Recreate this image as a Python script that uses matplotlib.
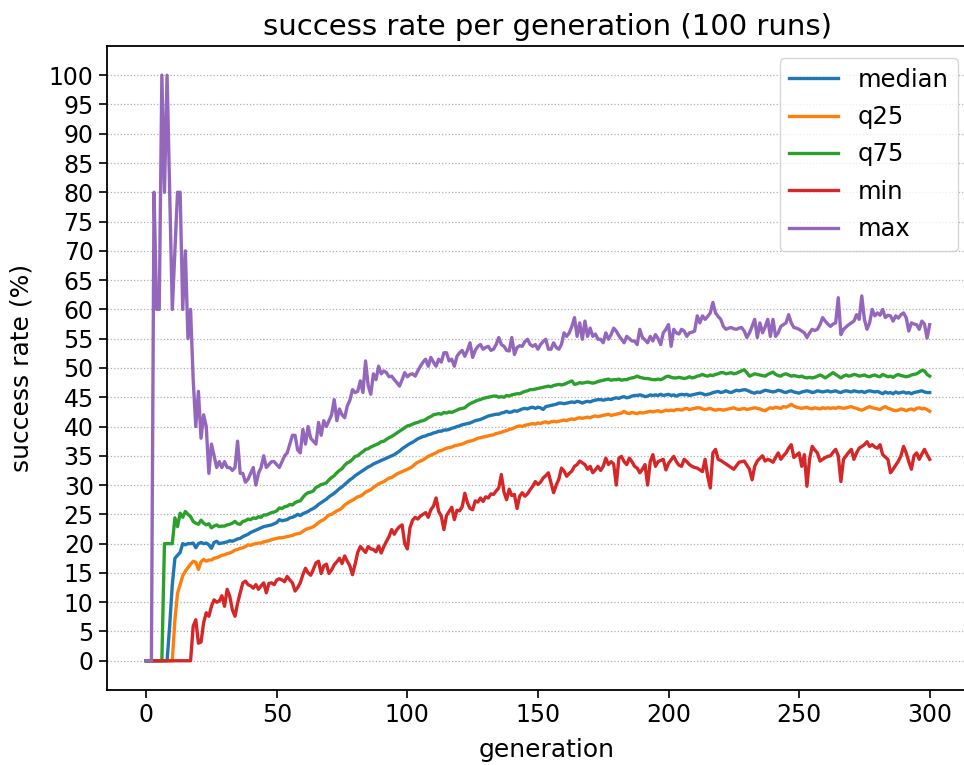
import numpy as np
import matplotlib
matplotlib.use('Agg')
import matplotlib.pyplot as plt

# success rate per generation (generations 0..300)
max_rate = [
    0, 0, 0, 80, 60, 60, 100, 80, 100, 80,
    60, 70, 80, 80, 60, 70, 55, 60, 48, 40,
    46, 38, 42, 40, 32, 37, 35, 33, 34, 33,
    34, 33, 33, 32.5, 33, 37.5, 32, 32, 30.5, 31,
    32, 33, 30, 32, 33, 35, 33, 33.5, 34, 34,
    33.5, 33, 34, 35, 35.5, 37, 38.5, 38.5, 36, 35.5,
    39.5, 37, 40, 38, 37.5, 37, 40.7, 38.5, 41, 40,
    41, 42, 44.6, 41, 43, 42, 41.5, 43.5, 44.5, 46.3,
    45.8, 46, 47.8, 45.8, 51.2, 47, 45.5, 49, 48, 50.3,
    49, 49.5, 49.2, 48.5, 48.6, 48, 47.5, 46.9, 48, 49.2,
    48.5, 48.9, 49, 48.6, 49.5, 50.3, 51, 51.5, 50.3, 51.8,
    51, 50.3, 51.5, 51, 52.6, 52.6, 51.2, 51.5, 50.3, 52,
    52.6, 53, 52, 53, 54.3, 51.8, 53, 53.7, 54, 53.2,
    53.5, 53.7, 53, 53.2, 54, 55.2, 54, 53.7, 53, 52.9,
    55.2, 52.3, 53.5, 53.8, 53.7, 54.5, 54.9, 54, 53.7, 54,
    53.2, 54, 54.5, 54.9, 53.2, 53.2, 54.3, 53.5, 53.2, 54,
    56, 55.4, 56, 57.1, 58.6, 55.4, 57.7, 54.9, 58, 55.4,
    56.8, 55.4, 55.8, 54.9, 54.9, 54.3, 56, 54.9, 55.7, 56.8,
    56.3, 55.5, 54.9, 54.3, 55.4, 55, 54.6, 54.6, 54, 56.6,
    55.2, 54.8, 54.3, 55.4, 54.6, 55.7, 55, 54, 56, 56.6,
    57.4, 53.7, 56.6, 56, 55.8, 56.6, 56.3, 55.4, 56, 56.1,
    56.3, 58.9, 57.7, 58.9, 58.3, 58.8, 59.4, 61.2, 59.4, 58.8,
    58.3, 57.1, 56.6, 56.8, 56.9, 56.7, 56.6, 56.8, 56.9, 56.3,
    55.2, 56, 57.1, 58.3, 55.2, 57.7, 56, 57, 58.3, 55.4,
    58.3, 55.4, 56, 57.1, 57.4, 57.7, 59.1, 57.7, 56.9, 56.8,
    56.6, 56.3, 56, 55.2, 56, 56.6, 56.4, 56.6, 57.4, 58.6,
    58, 57.5, 57.1, 57.5, 57.7, 62, 55.7, 56.6, 57, 57.4,
    57.7, 58, 59.1, 58.3, 62.3, 58.3, 56.6, 57.7, 60, 58.9,
    59.4, 59, 60, 58.6, 59, 58.9, 58, 58.9, 58.5, 59.1,
    59.4, 58.6, 56.3, 57.7, 57.5, 57.4, 56.6, 58, 57.5, 55.1,
    57.4,
]

q75 = [
    0, 0, 0, 0, 0, 0, 0, 20, 20, 20,
    20, 24.4, 22.9, 25.2, 24.5, 25.5, 25, 24.6, 23.8, 23.5,
    23.3, 24, 23.5, 23.2, 23.4, 22.7, 23, 23.2, 22.9, 23,
    23, 23.2, 23.3, 23.5, 23.8, 23.4, 23.3, 23.8, 23.9, 24.2,
    24.1, 24.4, 24.3, 24.6, 24.5, 24.9, 24.9, 25.1, 25.3, 25.4,
    25.6, 26.1, 26, 26.3, 26.4, 26.7, 26.6, 27, 27.2, 27.3,
    27.9, 28.4, 28.7, 28.8, 29, 29.6, 29.8, 30.1, 30.2, 30.4,
    30.9, 31.3, 31.6, 32.1, 32.5, 32.8, 33.4, 33.8, 34, 34.4,
    34.9, 35, 35.4, 35.7, 36.1, 36.2, 36.5, 36.7, 36.9, 37.1,
    37.4, 37.5, 37.8, 38.1, 38.3, 38.6, 38.9, 39.2, 39.5, 39.8,
    40.1, 40.2, 40.4, 40.6, 40.7, 40.9, 41, 41.2, 41.5, 41.7,
    42, 42.1, 42.2, 42.1, 42.4, 42.3, 42.5, 42.4, 42.6, 42.8,
    43, 43.1, 43.2, 43.6, 43.9, 44.1, 44.3, 44.5, 44.6, 44.8,
    44.9, 45, 45.1, 45.2, 45.2, 45, 45.1, 45, 45.3, 45.2,
    45.4, 45.5, 45.6, 45.6, 45.8, 46, 46.1, 46.3, 46.3, 46.4,
    46.5, 46.6, 46.7, 46.8, 46.9, 46.8, 47, 47.1, 47.2, 47.1,
    47.2, 47.4, 47.6, 47.8, 47.2, 47.3, 47.5, 47.4, 47.5, 47.6,
    47.5, 47.4, 47.5, 47.7, 47.8, 47.9, 48, 48.1, 47.9, 48,
    48, 48.1, 47.9, 48, 48, 48.2, 48.3, 48.4, 48.6, 48.4,
    48.3, 48.2, 48.2, 48.1, 48, 48, 48.1, 48, 48.2, 48.5,
    48.6, 48.4, 48.3, 48.3, 48.4, 48.3, 48.2, 48.3, 48.5, 48.3,
    48.4, 48.6, 48.7, 48.9, 48.7, 48.6, 48.8, 48.7, 48.9, 49,
    49.2, 49.2, 49, 49.1, 49.2, 49, 49.1, 49.3, 49.5, 49.7,
    49.2, 48.6, 48.8, 49, 48.9, 48.8, 48.7, 48.6, 48.9, 49.1,
    49.3, 48.9, 48.7, 48.6, 48.9, 49, 48.8, 48.6, 48.7, 48.6,
    48.5, 48.6, 48.4, 48.3, 48.4, 48.3, 48.4, 48.6, 48.8, 48.6,
    48.3, 48.6, 48.9, 49.2, 48.9, 48.6, 48.3, 48.6, 48.8, 48.6,
    48.7, 48.9, 48.8, 48.6, 48.7, 48.8, 48.6, 48.5, 48.7, 48.8,
    48.6, 48.5, 48.9, 48.7, 48.5, 48.6, 48.4, 48.7, 48.9, 48.7,
    48.6, 48.5, 48.6, 48.8, 48.9, 49, 49.3, 49.6, 49.5, 48.9,
    48.6,
]

median = [
    0, 0, 0, 0, 0, 0, 0, 0, 0, 6,
    13, 17.5, 18, 18.5, 20, 19.8, 20, 20, 20.1, 19.3,
    20, 20.2, 20, 20.1, 19.8, 19.2, 20.2, 20.4, 20, 20.1,
    20.2, 20.3, 20.5, 20.4, 20.6, 20.8, 20.9, 21.2, 21.4, 21.6,
    21.9, 22.1, 22.3, 22.5, 22.7, 22.9, 23, 23.1, 23.2, 23.4,
    23.6, 24.1, 23.9, 24, 24.1, 24.4, 24.5, 24.7, 25, 24.8,
    25.1, 25.3, 25.5, 25.8, 26, 26.3, 26.7, 27, 27.3, 27.6,
    28, 28.3, 28.6, 29, 29.4, 29.7, 30.1, 30.5, 30.9, 31.2,
    31.6, 31.9, 32.2, 32.5, 32.8, 33.1, 33.3, 33.6, 33.8, 34,
    34.2, 34.4, 34.6, 34.8, 35, 35.2, 35.5, 35.8, 36.2, 36.5,
    36.8, 37.1, 37.3, 37.6, 37.9, 38.1, 38.3, 38.4, 38.6, 38.7,
    38.9, 39, 39.2, 39.2, 39.4, 39.4, 39.5, 39.7, 39.8, 40,
    40.1, 40.3, 40.4, 40.5, 40.6, 40.8, 41, 41.1, 41.2, 41.4,
    41.6, 41.8, 41.9, 42, 42.1, 42.1, 42.3, 42.4, 42.6, 42.4,
    42.5, 42.7, 42.6, 42.8, 43, 43.1, 43, 43.2, 43.3, 43.1,
    43.3, 43.2, 42.9, 43.4, 43.5, 43.6, 43.7, 43.8, 44, 44,
    43.9, 44, 44.1, 44.2, 44.1, 44.3, 44.2, 44, 44.2, 44.3,
    44.2, 44.4, 44.5, 44.6, 44.6, 44.5, 44.6, 44.7, 44.6, 44.8,
    44.9, 44.8, 45, 45.1, 44.9, 45, 45.2, 45.3, 45.3, 45.4,
    45.3, 45.1, 45.2, 45.4, 45.3, 45.4, 45.3, 45.5, 45.3, 45.4,
    45.5, 45.3, 45.4, 45.2, 45.4, 45.5, 45.4, 45.5, 45.3, 45.4,
    45.5, 45.6, 45.7, 45.6, 45.4, 45.5, 45.6, 45.8, 45.9, 46,
    45.8, 45.9, 46.1, 45.9, 45.8, 46, 46.2, 46.1, 46.2, 46.3,
    46.2, 46, 45.8, 45.7, 45.9, 45.8, 46, 46.2, 46.1, 46,
    45.9, 46, 46.2, 46.1, 45.9, 45.8, 46, 46.1, 45.9, 45.8,
    45.7, 45.9, 46, 46.1, 46, 45.8, 45.9, 46.1, 46, 45.9,
    46, 46.1, 45.9, 46, 46.1, 45.9, 45.8, 46, 46.1, 46,
    45.9, 46.1, 46, 45.9, 46, 45.8, 46, 46.1, 46, 45.9,
    46, 45.8, 45.6, 45.9, 45.7, 45.8, 45.6, 45.9, 45.7, 45.8,
    45.9, 45.7, 45.8, 45.6, 45.8, 45.9, 46, 46.1, 45.9, 45.8,
    45.8,
]

q25 = [
    0, 0, 0, 0, 0, 0, 0, 0, 0, 0,
    0, 7, 11.5, 13, 14.5, 15.3, 15.9, 16.5, 17, 16.8,
    15.6, 16.9, 17.3, 17, 17.2, 17.2, 17.5, 17.6, 17.8, 18,
    18.1, 18.3, 18.4, 18.6, 18.9, 19, 19.2, 19.3, 19.5, 19.8,
    19.7, 19.9, 20, 20.1, 20.1, 20.3, 20.4, 20.5, 20.7, 20.8,
    20.9, 21, 21, 21.1, 21.2, 21.3, 21.4, 21.6, 21.7, 21.8,
    22.1, 22.4, 22.6, 22.7, 22.9, 23.2, 23.6, 23.9, 24.1, 24.5,
    24.9, 25, 25.3, 25.6, 25.8, 26.1, 26.6, 26.9, 27.2, 27.4,
    27.7, 28, 28.1, 28.4, 28.8, 29, 29.2, 29.6, 29.9, 30.2,
    30.4, 30.6, 30.9, 31.2, 31.3, 31.6, 31.9, 32.1, 32.3, 32.5,
    32.7, 32.9, 33.2, 33.6, 33.9, 34.1, 34.3, 34.6, 34.9, 35.1,
    35.3, 35.5, 35.8, 35.9, 36.1, 36.3, 36.4, 36.5, 36.7, 36.8,
    36.9, 37, 37.2, 37.4, 37.5, 37.6, 37.8, 38, 38.1, 38.2,
    38.3, 38.4, 38.5, 38.6, 38.8, 38.9, 39, 39.2, 39.3, 39.5,
    39.6, 39.8, 40, 40.1, 40, 40.2, 40.3, 40.4, 40.5, 40.4,
    40.6, 40.5, 40.7, 40.8, 40.6, 40.8, 40.9, 40.8, 40.9, 41,
    41.1, 41, 41.2, 41.3, 41.2, 41.4, 41.5, 41.4, 41.5, 41.6,
    41.5, 41.7, 41.8, 41.7, 41.8, 41.9, 42, 42.1, 41.9, 42,
    42.1, 42.2, 42.3, 42.6, 42.3, 42.2, 42.4, 42.3, 42.2, 42.4,
    42.3, 42.4, 42.5, 42.6, 42.5, 42.6, 42.7, 42.5, 42.6, 42.8,
    42.7, 42.8, 42.7, 42.9, 42.9, 42.8, 43, 43.1, 42.9, 43,
    43.1, 43.2, 43.2, 43, 42.9, 43, 43.1, 42.9, 42.8, 42.9,
    42.9, 42.8, 42.9, 43, 43.1, 43.2, 43, 42.9, 43, 43.1,
    42.9, 43, 43.1, 43.2, 43.1, 43, 42.8, 42.7, 43, 43.2,
    43.1, 43.3, 43.2, 43.1, 43.4, 43.3, 43.5, 43.8, 43.5, 43.3,
    43.2, 43.1, 43.2, 43.3, 43.1, 43, 43.2, 43.1, 43, 43.2,
    43.1, 43.2, 43.1, 43.2, 43.1, 43.3, 43.2, 43.1, 43.2, 43.3,
    43.4, 43.2, 43.1, 42.9, 42.8, 43, 43.2, 43.4, 43.2, 43.1,
    43, 42.9, 43.2, 43.4, 43.1, 43, 42.8, 42.7, 42.8, 43,
    42.9, 42.7, 42.9, 43, 42.8, 43.1, 43.2, 43, 43.1, 42.9,
    42.6,
]

min_rate = [
    0, 0, 0, 0, 0, 0, 0, 0, 0, 0,
    0, 0, 0, 0, 0, 0, 0, 0, 5.9, 7,
    3, 3.2, 6.5, 8.2, 7.6, 9.3, 10.4, 10, 10.2, 11.1,
    9.3, 12.2, 11, 8.7, 7.6, 9.8, 11.6, 13.3, 13.6, 13,
    12.8, 12.4, 13, 12.2, 12.8, 13.3, 11.6, 13.2, 13.3, 13,
    13.8, 14, 13.8, 13.5, 14.4, 13.8, 13.3, 11.9, 12.5, 13.3,
    14.7, 15.8, 15, 14.6, 15.6, 16.7, 17, 14.9, 16.2, 16.5,
    14.9, 15.5, 16.4, 16.9, 17.5, 16.6, 17.9, 17, 16.2, 14.7,
    16.5, 18.5, 19.5, 19, 18.5, 19.5, 19.1, 19, 18.6, 19.6,
    18.4, 19.5, 20.4, 21.2, 22.4, 21.6, 22.4, 22.9, 23.2, 20,
    19.1, 22.7, 24, 24.5, 24.2, 24.7, 25, 25.3, 24.5, 25.8,
    26.4, 27.8, 25.5, 24.7, 22.4, 24.8, 25.5, 26.2, 24.1, 25.7,
    25.6, 26.3, 28.6, 27, 26, 25.8, 27.3, 27.1, 27.8, 27.2,
    28, 27.8, 28.5, 28.4, 29, 29.5, 31.8, 28.8, 27.5, 29.3,
    28.2, 28.4, 26, 28.1, 28.7, 28.1, 28.5, 29.2, 29.8, 30.6,
    30.1, 30.5, 31.2, 31.6, 32.1, 30.4, 28.7, 30, 31, 32.9,
    32.4, 31.5, 32, 32.4, 33.2, 33.5, 34.1, 33.8, 33.5, 32.7,
    33.2, 32.1, 32.6, 33.2, 32.5, 33.2, 34.6, 33.5, 34, 33.6,
    30, 34.6, 34.9, 34, 33.5, 34.6, 34, 33.2, 32.9, 32.1,
    32.7, 33.5, 30, 34, 35.2, 33.2, 34, 34.2, 34.4, 32.6,
    33.7, 34.3, 34.9, 34, 33.4, 33.2, 34.4, 34, 33.5, 33.2,
    33, 32.9, 32.6, 32.3, 34.4, 31.5, 29.5, 35.5, 36.1, 34.4,
    34.2, 33.9, 33.6, 33.3, 33, 32.7, 33.3, 33.9, 34, 34.1,
    33.4, 32.7, 30.9, 33.2, 34.1, 34.6, 35, 34.1, 34.4, 34.2,
    33.9, 34.7, 35.5, 34.4, 35, 35.5, 36.3, 36.9, 34.7, 35.1,
    35.5, 33.2, 35.2, 29.8, 34.4, 36.6, 36, 35.5, 34.1, 34.4,
    34.7, 34.9, 35, 35.6, 36.1, 35, 30.6, 34.4, 35, 35.6,
    36.1, 34.4, 35.5, 36.3, 36.6, 36.9, 37.4, 36.6, 36.9, 36.5,
    36.3, 36.9, 35.2, 34.8, 34.4, 32.1, 32.7, 33.4, 34.1, 35,
    36.6, 35.5, 34, 32.7, 35, 35.5, 34.4, 35.3, 36.1, 35.2,
    34.4,
]

series = [
    ('median', median, '#1f77b4'),
    ('q25', q25, '#ff7f0e'),
    ('q75', q75, '#2ca02c'),
    ('min', min_rate, '#d62728'),
    ('max', max_rate, '#9467bd'),
]


def main():
    fig = plt.figure(figsize=(9.64, 7.65), dpi=100)
    # the reference is cropped on the right, so the axes run past the edge
    ax = fig.add_axes([0.111, 0.098, 0.913, 0.842])

    for name, vals, col in series:
        gens = np.arange(len(vals))
        ax.plot(gens, vals, label=name, color=col, linewidth=2.4)

    ax.set_xlim(-15, 322)
    ax.set_ylim(-5, 105)
    ax.set_yticks(np.arange(0, 101, 5))
    ax.set_xticks([0, 50, 100, 150, 200, 250, 300])
    ax.tick_params(labelsize=17, width=1.2, length=6)
    for sp in ax.spines.values():
        sp.set_linewidth(1.3)

    # dotted horizontal grid only
    ax.yaxis.grid(True, linestyle=':', linewidth=0.9, color='#b0b0b0')
    ax.set_axisbelow(True)

    ax.set_title('success rate per generation (100 runs)', fontsize=21, pad=8)
    ax.set_xlabel('generation', fontsize=18, labelpad=8)
    ax.set_ylabel('success rate (%)', fontsize=18, labelpad=11)

    ax.legend(loc='upper right', fontsize=17.5, labelspacing=0.55,
              bbox_to_anchor=(958 / 964, 1 - 58 / 765),
              bbox_transform=fig.transFigure, borderaxespad=0)

    fig.savefig('out.png', dpi=100)


if __name__ == "__main__":
    main()
